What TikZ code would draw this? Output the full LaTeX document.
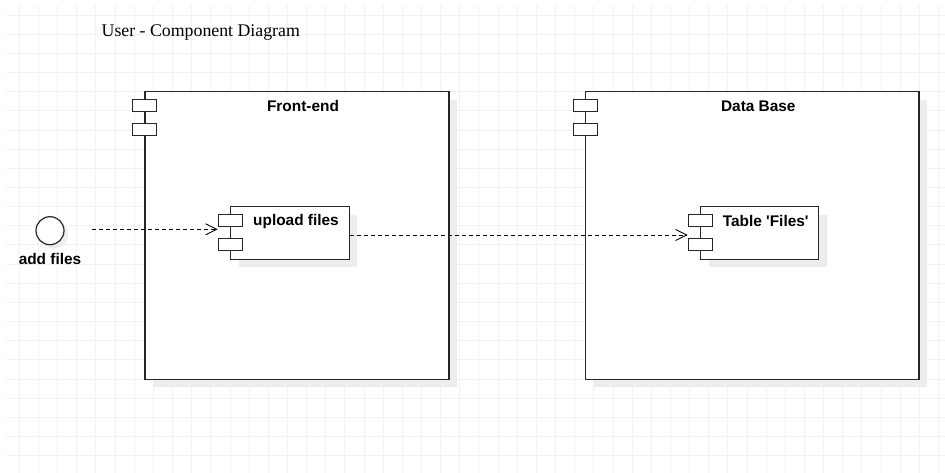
\documentclass[tikz,border=0pt]{standalone}
\usepackage{fontspec}
\setmainfont{Liberation Serif}
\setsansfont{Liberation Sans}[Ligatures=TeXOff]
\usetikzlibrary{arrows.meta,shadows}

\begin{document}
\begin{tikzpicture}[x=1pt,y=-1pt,
        gridline/.style={draw=black!5,line width=0.6pt},
        comp/.style={draw=black!85,line width=1.2pt,fill=white,inner sep=0pt,
            drop shadow={shadow xshift=8pt,shadow yshift=-8pt,fill=black!7,opacity=1}},
        port/.style={draw=black!85,line width=1.1pt,fill=white,inner sep=0pt,
            minimum width=24pt,minimum height=12pt},
        comptext/.style={font=\sffamily\bfseries\fontsize{15.4}{18}\selectfont,inner sep=0pt},
        dep/.style={draw=black,line width=0.9pt,dash pattern=on 4pt off 3pt,
            -{Straight Barb[length=11pt,width=11pt,line width=0.9pt]}}]
    \useasboundingbox (0,0) rectangle (945,473);
    \fill[white] (0,0) rectangle (945,473);

    % 背景网格
    \foreach \i in {1,...,49} {
        \draw[gridline] (19.15*\i,5) -- (19.15*\i,473);
    }
    \foreach \j in {0,...,23} {
        \draw[gridline] (6,15+19.15*\j) -- (945,15+19.15*\j);
    }

    % 标题
    \node[font=\fontsize{17.8}{20}\selectfont,inner sep=0pt] (title) at (200.8,33) {User - Component Diagram};

    % 两个大组件
    \node[comp,minimum width=304pt,minimum height=287.5pt] (front) at (297,235.5) {};
    \node[comp,minimum width=333.3pt,minimum height=287.5pt] (db) at (752.3,235.5) {};
    \node[comptext] (frontname) at ([xshift=6pt,yshift=-15pt]front.north) {Front-end};
    \node[comptext] (dbname) at ([xshift=6pt,yshift=-15pt]db.north) {Data Base};
    \node[port] (frontportA) at ([yshift=-14pt]front.north west) {};
    \node[port] (frontportB) at ([yshift=-38pt]front.north west) {};
    \node[port] (dbportA) at ([yshift=-14pt]db.north west) {};
    \node[port] (dbportB) at ([yshift=-38pt]db.north west) {};

    % 内部组件
    \node[comp,minimum width=118.3pt,minimum height=52.6pt] (upload) at (290,233) {};
    \node[comp,minimum width=118pt,minimum height=52.6pt] (table) at (759.7,233) {};
    \node[comptext] (uploadname) at ([xshift=6pt,yshift=-15pt]upload.north) {upload files};
    \node[comptext] (tablename) at ([xshift=6pt,yshift=-15pt]table.north) {Table 'Files'};
    \node[port] (uploadportA) at ([yshift=-14pt]upload.north west) {};
    \node[port] (uploadportB) at ([yshift=-38pt]upload.north west) {};
    \node[port] (tableportA) at ([yshift=-14pt]table.north west) {};
    \node[port] (tableportB) at ([yshift=-38pt]table.north west) {};

    % 接口 add files
    \node[circle,draw=black!85,line width=1.2pt,fill=white,minimum size=28pt,inner sep=0pt,
        drop shadow={shadow xshift=4pt,shadow yshift=-4pt,fill=black!7,opacity=1}] (add) at (50,230.7) {};
    \node[comptext] (addname) at (50,259.3) {add files};

    % 依赖箭头
    \coordinate (src) at (92,229.3);
    \draw[dep] (src) -- (src -| uploadportA.west);
    \draw[dep] ([yshift=-2pt]upload.east) -- ([yshift=-2pt]upload.east -| tableportA.west);
\end{tikzpicture}
\end{document}
